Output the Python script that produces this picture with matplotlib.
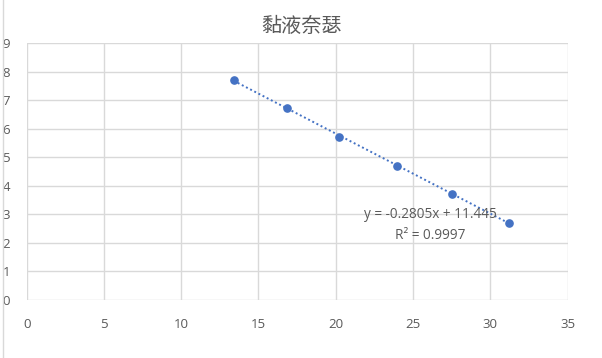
import matplotlib
matplotlib.use("Agg")
import matplotlib.pyplot as plt
import numpy as np
from matplotlib.lines import Line2D

plt.rcParams['font.family'] = ['Noto Sans CJK SC', 'DejaVu Sans']

title = "黏液奈瑟"
x_vals = [13.39, 16.83, 20.23, 23.95, 27.51, 31.24]
y_vals = [7.71, 6.74, 5.72, 4.71, 3.71, 2.71]
x_ticks = [0, 5, 10, 15, 20, 25, 30, 35]
y_ticks = [0, 1, 2, 3, 4, 5, 6, 7, 8, 9]
eq_text = "y = -0.2805x + 11.445"
r2_text = "R² = 0.9997"

blue = "#4472C4"
grid = "#D9D9D9"
txt = "#595959"

fig = plt.figure(figsize=(6.02, 3.58), dpi=100)
ax = fig.add_axes([0.0443, 0.1626, 0.8984, 0.7164])

ax.set_xlim(0, 35)
ax.set_ylim(0, 9)
ax.set_xticks(x_ticks)
ax.set_yticks(y_ticks)
ax.grid(True, color=grid, linewidth=1.0)
ax.set_axisbelow(True)
for s in ax.spines.values():
    s.set_visible(False)
ax.tick_params(length=0, colors=txt, labelsize=9.5)
ax.tick_params(axis='x', pad=13)
ax.tick_params(axis='y', pad=12)
for lab in ax.get_xticklabels() + ax.get_yticklabels():
    lab.set_fontfamily(['Open Sans', 'DejaVu Sans'])
    lab.set_color(txt)

# trendline
coef = np.polyfit(x_vals, y_vals, 1)
tx = np.array([min(x_vals), max(x_vals)])
ax.plot(tx, np.polyval(coef, tx), color=blue, linewidth=1.4,
        linestyle=(0, (1, 1.4)), dash_capstyle='butt', zorder=2)

ax.plot(x_vals, y_vals, 'o', color=blue, markersize=5.2, zorder=3)

ax.text(26.1, 2.98, eq_text, ha='center', va='center', fontsize=9.8,
        color=txt, family=['Open Sans', 'DejaVu Sans'], zorder=4)
ax.text(26.1, 2.27, r2_text, ha='center', va='center', fontsize=9.8,
        color=txt, family=['Open Sans', 'DejaVu Sans'], zorder=4)

fig.text(0.5, 0.925, title, ha='center', va='center', fontsize=14.5,
         color=txt, family=['Noto Sans CJK SC', 'DejaVu Sans'])

# spreadsheet cell border at left edge
fig.add_artist(Line2D([3/602, 3/602], [0, 1], color=grid, linewidth=1.0,
                      transform=fig.transFigure))

fig.savefig("out.png", dpi=100, facecolor="white")
